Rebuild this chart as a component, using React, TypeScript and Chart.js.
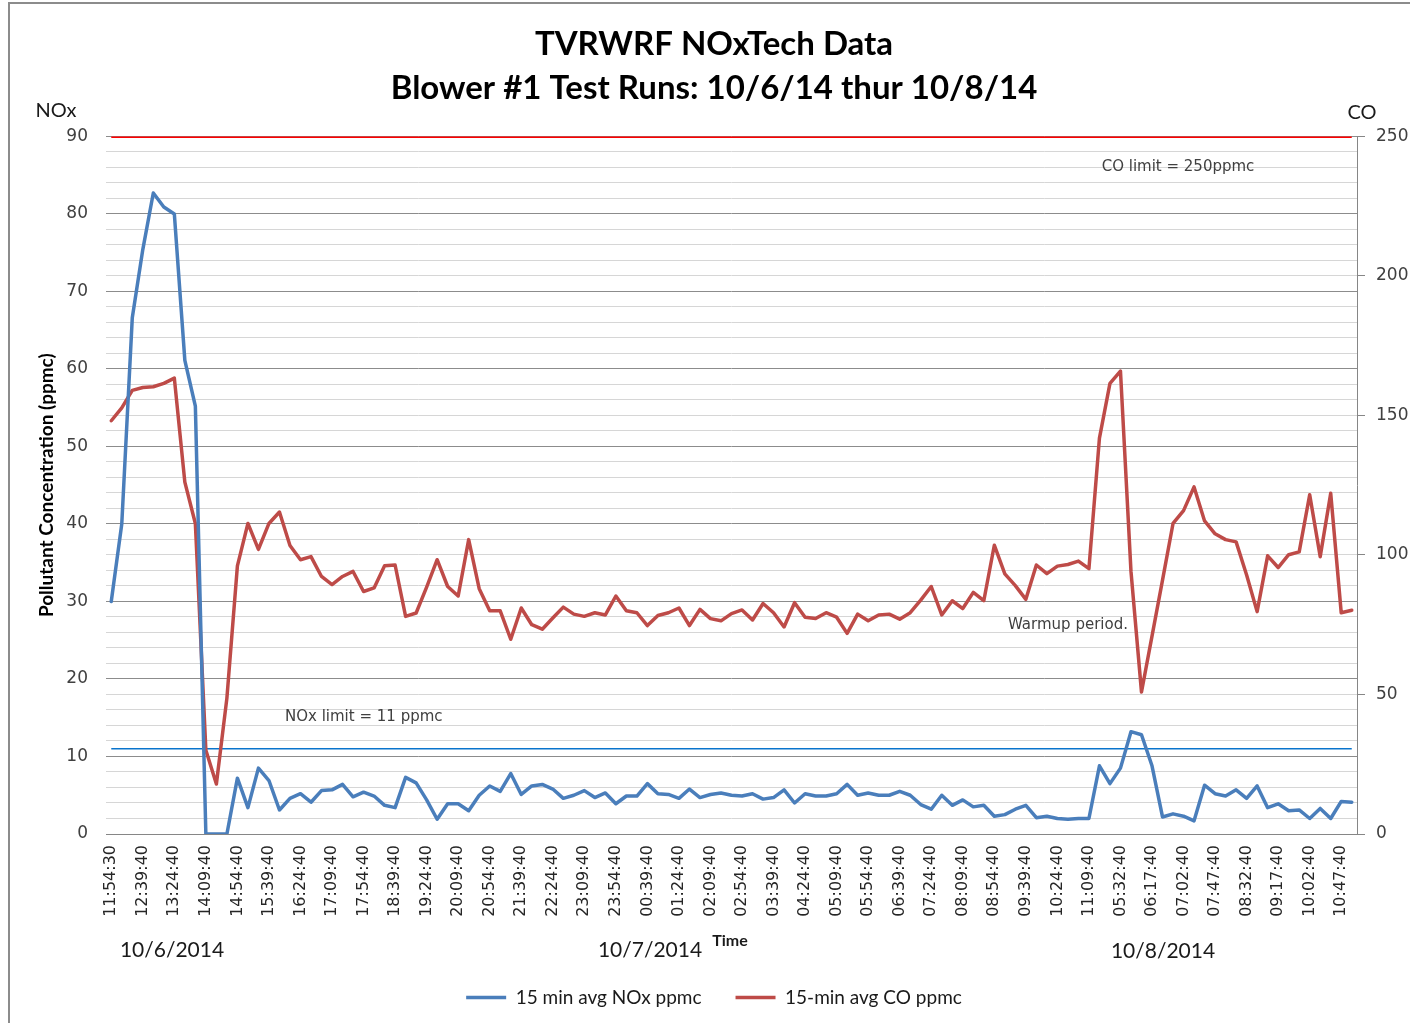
import React, { useEffect, useRef } from 'react';
import { Chart, registerables } from 'chart.js';

Chart.register(...registerables);

// Tick labels shown on the time axis (one every third 15-min sample)
const tickLabels = [
  '11:54:30', '12:39:40', '13:24:40', '14:09:40', '14:54:40', '15:39:40', '16:24:40', '17:09:40',
  '17:54:40', '18:39:40', '19:24:40', '20:09:40', '20:54:40', '21:39:40', '22:24:40', '23:09:40',
  '23:54:40', '00:39:40', '01:24:40', '02:09:40', '02:54:40', '03:39:40', '04:24:40', '05:09:40',
  '05:54:40', '06:39:40', '07:24:40', '08:09:40', '08:54:40', '09:39:40', '10:24:40', '11:09:40',
  '05:32:40', '06:17:40', '07:02:40', '07:47:40', '08:32:40', '09:17:40', '10:02:40', '10:47:40',
];

// 15 min avg NOx ppmc (left axis)
const noxValues = [
  30.0, 40.0, 66.6, 75.4, 82.7, 80.9, 80.0, 61.1, 55.2, 0, 0, 0, 7.2, 3.4, 8.5, 6.9, 3.1, 4.6, 5.2, 4.1,
  5.6, 5.7, 6.4, 4.8, 5.4, 4.9, 3.7, 3.4, 7.3, 6.6, 4.4, 1.9, 3.9, 3.9, 3.0, 5.0, 6.2, 5.5, 7.8, 5.1,
  6.2, 6.4, 5.8, 4.6, 5.0, 5.6, 4.7, 5.3, 3.9, 4.9, 4.9, 6.5, 5.2, 5.1, 4.6, 5.8, 4.7, 5.1, 5.3, 5.0,
  4.9, 5.2, 4.5, 4.7, 5.7, 4.0, 5.2, 4.9, 4.9, 5.2, 6.4, 5.0, 5.3, 5.0, 5.0, 5.5, 5.0, 3.8, 3.2, 5.0,
  3.7, 4.4, 3.5, 3.7, 2.3, 2.5, 3.2, 3.7, 2.1, 2.3, 2.0, 1.9, 2.0, 2.0, 8.8, 6.5, 8.5, 13.2, 12.8, 8.8,
  2.2, 2.6, 2.3, 1.7, 6.3, 5.2, 4.9, 5.7, 4.6, 6.2, 3.4, 3.9, 3.0, 3.1, 2.0, 3.3, 2.0, 4.2, 4.1,
];

// 15-min avg CO ppmc (right axis)
const coValues = [
  148.1, 152.7, 159.0, 160.0, 160.3, 161.5, 163.4, 126.1, 111.3, 30.0, 17.9, 48.7, 96.1, 111.3, 102.0, 111.3, 115.4, 103.4, 98.3, 99.4,
  92.3, 89.4, 92.3, 94.1, 86.9, 88.2, 96.1, 96.4, 78.0, 79.2, 88.5, 98.3, 88.7, 85.3, 105.5, 87.9, 80.0, 80.0, 69.8, 81.0,
  75.0, 73.4, 77.4, 81.3, 78.8, 78.0, 79.3, 78.5, 85.3, 80.0, 79.3, 74.7, 78.3, 79.3, 81.0, 74.7, 80.5, 77.2, 76.4, 79.0,
  80.3, 76.7, 82.6, 79.3, 74.2, 82.9, 77.7, 77.2, 79.3, 77.7, 71.9, 78.8, 76.4, 78.5, 78.8, 77.0, 79.3, 83.8, 88.7, 78.5,
  83.6, 80.8, 86.6, 83.6, 103.5, 93.2, 89.0, 84.1, 96.4, 93.3, 96.0, 96.6, 97.8, 95.1, 141.9, 161.5, 165.9, 94.1, 50.9, 70.9,
  91.0, 111.3, 115.9, 124.4, 112.2, 107.6, 105.5, 104.7, 92.8, 79.7, 99.7, 95.5, 100.1, 101.1, 121.6, 99.4, 122.1, 79.3, 80.2,
];

const coLimit = 250;
const noxLimit = 11;

const categories = noxValues.map((_, i) => (i % 3 === 0 ? tickLabels[i / 3] : ''));

const NOX_COLOR = '#4a7ebb';
const CO_COLOR = '#be4b48';

const decorations = {
  id: 'decorations',
  beforeDraw(chart: any) {
    const { ctx } = chart;
    ctx.save();
    ctx.fillStyle = '#ffffff';
    ctx.fillRect(0, 0, chart.width, chart.height);
    ctx.strokeStyle = '#8c8c8c';
    ctx.lineWidth = 2;
    ctx.beginPath();
    ctx.moveTo(9, chart.height);
    ctx.lineTo(9, 3);
    ctx.lineTo(chart.width, 3);
    ctx.stroke();
    ctx.restore();
  },
  afterDraw(chart: any) {
    const { ctx } = chart;
    ctx.save();
    ctx.textBaseline = 'middle';
    ctx.fillStyle = '#404040';
    ctx.font = '15px "DejaVu Sans"';
    ctx.textAlign = 'center';
    ctx.fillText('CO limit = 250ppmc', 1178, 167);
    ctx.textAlign = 'left';
    ctx.fillText('NOx limit = 11 ppmc', 285, 717);
    ctx.fillText('Warmup period.', 1008, 625);

    ctx.fillStyle = '#1a1a1a';
    ctx.textAlign = 'center';
    ctx.font = '20px Lato';
    ctx.fillText('NOx', 56, 111);
    ctx.fillText('CO', 1362, 113);
    ctx.font = '21px Lato';
    ctx.fillText('10/6/2014', 172, 950);
    ctx.fillText('10/7/2014', 650, 950);
    ctx.fillText('10/8/2014', 1163, 951);
    ctx.font = 'bold 16px Lato';
    ctx.fillText('Time', 730, 941);
    ctx.restore();
  },
};

export default function App() {
  const canvasRef = useRef<HTMLCanvasElement | null>(null);

  useEffect(() => {
    const canvas = canvasRef.current;
    if (!canvas) return;
    const chart = new Chart(canvas, {
      type: 'line',
      data: {
        labels: categories,
        datasets: [
          {
            label: '15 min avg NOx ppmc',
            data: noxValues,
            yAxisID: 'y',
            borderColor: NOX_COLOR,
            backgroundColor: NOX_COLOR,
            borderWidth: 3.5,
            borderCapStyle: 'round',
            borderJoinStyle: 'round',
            pointRadius: 0,
            tension: 0,
          },
          {
            label: '15-min avg CO ppmc',
            data: coValues,
            yAxisID: 'y1',
            borderColor: CO_COLOR,
            backgroundColor: CO_COLOR,
            borderWidth: 3.5,
            borderCapStyle: 'round',
            borderJoinStyle: 'round',
            pointRadius: 0,
            tension: 0,
          },
          {
            label: 'NOx limit',
            data: categories.map(() => noxLimit),
            yAxisID: 'y',
            borderColor: '#0a74cc',
            backgroundColor: '#0a74cc',
            borderWidth: 1.5,
            pointRadius: 0,
          },
          {
            label: 'CO limit',
            data: categories.map(() => coLimit),
            yAxisID: 'y1',
            borderColor: '#ff0000',
            backgroundColor: '#ff0000',
            borderWidth: 3,
            pointRadius: 0,
          },
        ],
      },
      options: {
        animation: false,
        responsive: true,
        maintainAspectRatio: false,
        layout: { padding: { left: 18, right: 0, top: 0, bottom: 6 } },
        plugins: {
          tooltip: { enabled: false },
          title: {
            display: true,
            text: ['TVRWRF NOxTech Data', 'Blower #1 Test Runs: 10/6/14 thur 10/8/14'],
            color: '#000',
            font: { family: 'Lato', size: 33, weight: 'bold', lineHeight: 1.34 },
            padding: { top: 22, bottom: 26 },
          },
          legend: {
            position: 'bottom',
            labels: {
              filter: (item: any) => item.datasetIndex < 2,
              usePointStyle: true,
              pointStyle: 'line',
              pointStyleWidth: 40,
              padding: 34,
              color: '#1a1a1a',
              font: { family: 'Lato', size: 19 },
            },
          },
        },
        scales: {
          x: {
            type: 'category',
            offset: true,
            grid: { display: false, drawTicks: false },
            border: { display: true, color: '#868686', width: 1 },
            afterFit: (s: any) => { s.height = 120; },
            ticks: {
              autoSkip: false,
              minRotation: 90,
              maxRotation: 90,
              padding: 11,
              color: '#262626',
              font: { family: 'DejaVu Sans', size: 16 },
              callback: (_v: any, i: number) => (i % 3 === 0 ? tickLabels[i / 3] : ''),
            },
          },
          y: {
            type: 'linear',
            position: 'left',
            min: 0,
            max: 90,
            afterFit: (s: any) => { s.width = 88; },
            ticks: {
              stepSize: 2,
              autoSkip: false,
              padding: 18,
              color: '#404040',
              font: { family: 'DejaVu Sans', size: 17 },
              callback: (v: any) => (Number(v) % 10 === 0 ? String(v) : ''),
            },
            grid: {
              drawTicks: false,
              lineWidth: 1,
              color: (c: any) => (c.tick && c.tick.value % 10 === 0 ? '#8c8c8c' : '#d6d6d6'),
            },
            border: { display: false },
            title: {
              display: true,
              text: 'Pollutant Concentration (ppmc)',
              color: '#000',
              font: { family: 'Lato', size: 19, weight: 'bold', lineHeight: 1.2 },
              padding: { top: 17.6, bottom: 0 },
            },
          },
          y1: {
            type: 'linear',
            position: 'right',
            min: 0,
            max: 250,
            afterFit: (s: any) => { s.width = 53; },
            ticks: {
              stepSize: 50,
              autoSkip: false,
              padding: 11,
              color: '#404040',
              font: { family: 'DejaVu Sans', size: 17 },
            },
            grid: {
              drawOnChartArea: false,
              drawTicks: true,
              tickLength: 8,
              tickColor: '#868686',
            },
            border: { display: true, color: '#868686', width: 1 },
          },
        },
      },
      plugins: [decorations],
    } as any);
    return () => chart.destroy();
  }, []);

  return (
    <div style={{ position: 'fixed', left: 0, top: 0, width: 1410, height: 1023, background: '#fff' }}>
      <canvas ref={canvasRef} />
    </div>
  );
}
